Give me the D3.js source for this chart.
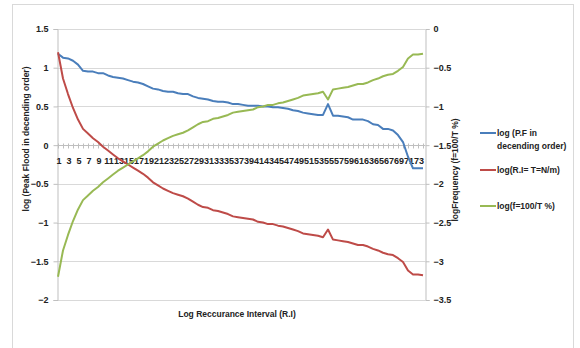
<!DOCTYPE html>
<html>
<head>
<meta charset="utf-8">
<script src="https://cdn.jsdelivr.net/npm/d3@7"></script>
<style>
	body { margin: 0; background: #fff; }
	svg text { font-family: "Liberation Sans", Arial, sans-serif; font-weight: bold; fill: #222; }
	.xlab { font-family: "Liberation Sans Narrow", "Liberation Sans", sans-serif; }
</style>
</head>
<body>
<svg width="580" height="348"></svg>
<script>

	// recurrence index 1..74
	var categories = d3.range( 1, 75 );

	var peakFlood = [
		1.18, 1.13, 1.12, 1.09, 1.04, 0.96, 0.95, 0.95, 0.93, 0.93,
		0.90, 0.88, 0.87, 0.86, 0.84, 0.82, 0.81, 0.79, 0.76, 0.73,
		0.72, 0.70, 0.69, 0.69, 0.67, 0.66, 0.66, 0.63, 0.61, 0.60,
		0.59, 0.57, 0.56, 0.56, 0.55, 0.53, 0.53, 0.52, 0.51, 0.51,
		0.51, 0.50, 0.50, 0.49, 0.49, 0.48, 0.47, 0.45, 0.44, 0.42,
		0.41, 0.40, 0.39, 0.39, 0.53, 0.38, 0.38, 0.37, 0.36, 0.33,
		0.33, 0.33, 0.31, 0.27, 0.26, 0.21, 0.21, 0.19, 0.13, 0.04,
		-0.15, -0.30, -0.30, -0.30
	];

	var recurrence = [
		1.20, 0.86, 0.66, 0.48, 0.33, 0.21, 0.15, 0.09, 0.04, -0.02,
		-0.07, -0.12, -0.17, -0.21, -0.25, -0.29, -0.33, -0.37, -0.42, -0.48,
		-0.52, -0.56, -0.59, -0.62, -0.64, -0.66, -0.69, -0.73, -0.77, -0.80,
		-0.81, -0.84, -0.85, -0.87, -0.89, -0.92, -0.93, -0.94, -0.95, -0.96,
		-0.99, -1.00, -1.02, -1.02, -1.04, -1.05, -1.07, -1.09, -1.11, -1.14,
		-1.15, -1.16, -1.17, -1.19, -1.09, -1.22, -1.23, -1.24, -1.25, -1.27,
		-1.29, -1.29, -1.31, -1.34, -1.36, -1.39, -1.41, -1.42, -1.46, -1.51,
		-1.62, -1.67, -1.67, -1.68
	];

	// secondary axis
	var frequency = [
		-3.20, -2.86, -2.66, -2.48, -2.33, -2.21, -2.15, -2.09, -2.04, -1.98,
		-1.93, -1.88, -1.83, -1.79, -1.75, -1.71, -1.67, -1.63, -1.58, -1.52,
		-1.48, -1.44, -1.41, -1.38, -1.36, -1.34, -1.31, -1.27, -1.23, -1.20,
		-1.19, -1.16, -1.15, -1.13, -1.11, -1.08, -1.07, -1.06, -1.05, -1.04,
		-1.01, -1.00, -0.98, -0.98, -0.96, -0.95, -0.93, -0.91, -0.89, -0.86,
		-0.85, -0.84, -0.83, -0.81, -0.91, -0.78, -0.77, -0.76, -0.75, -0.73,
		-0.71, -0.71, -0.69, -0.66, -0.64, -0.61, -0.59, -0.58, -0.54, -0.49,
		-0.38, -0.33, -0.33, -0.32
	];

	var leftTicks = [ 1.5, 1, 0.5, 0, -0.5, -1, -1.5, -2 ];
	var rightTicks = [ 0, -0.5, -1, -1.5, -2, -2.5, -3, -3.5 ];

	var series = [
		{ name: 'log (P.F in|decending order)', values: peakFlood, axis: 'left', color: '#4a7ebb' },
		{ name: 'log(R.I= T=N/m)', values: recurrence, axis: 'left', color: '#be4b48' },
		{ name: 'log(f=100/T %)', values: frequency, axis: 'right', color: '#98b954' }
	];

	( function() {

		var svg = d3.select( 'svg' ),
			plotLeft = 57, plotRight = 425, plotTop = 29, plotBottom = 300;

		var x = d3.scalePoint().domain( categories ).range( [ 58, 423 ] ),
			yLeft = d3.scaleLinear().domain( [ -2, 1.5 ] ).range( [ plotBottom, plotTop ] ),
			yRight = d3.scaleLinear().domain( [ -3.5, 0 ] ).range( [ plotBottom, plotTop ] );

		// outer chart border
		svg.append( 'rect' )
			.attr( 'x', 12.5 ).attr( 'y', 4.5 )
			.attr( 'width', 561 ).attr( 'height', 350 )
			.attr( 'fill', 'none' ).attr( 'stroke', '#d9d9d9' );

		// gridlines
		svg.append( 'g' )
			.selectAll( 'line' )
			.data( leftTicks )
			.join( 'line' )
			.attr( 'x1', plotLeft ).attr( 'x2', plotRight )
			.attr( 'y1', function( d ) { return Math.round( yLeft( d ) ) + 0.5; } )
			.attr( 'y2', function( d ) { return Math.round( yLeft( d ) ) + 0.5; } )
			.attr( 'stroke', '#d9d9d9' );

		// left axis
		var gl = svg.append( 'g' )
			.attr( 'transform', 'translate(' + ( plotLeft + 0.5 ) + ',0)' )
			.call( d3.axisLeft( yLeft ).tickValues( leftTicks ).tickSize( 4 ).tickPadding( 5 ).tickFormat( d3.format( '' ) ) );

		// right axis
		var gr = svg.append( 'g' )
			.attr( 'transform', 'translate(' + ( plotRight + 0.5 ) + ',0)' )
			.call( d3.axisRight( yRight ).tickValues( rightTicks ).tickSize( 4 ).tickPadding( 4 ).tickFormat( d3.format( '' ) ) );

		[ gl, gr ].forEach( function( g ) {
			g.select( '.domain' ).attr( 'stroke', '#bfbfbf' );
			g.selectAll( '.tick line' ).attr( 'stroke', '#bfbfbf' );
			g.selectAll( '.tick text' ).attr( 'font-size', 9 ).attr( 'fill', '#222' );
		} );

		// category axis on the zero line
		var y0 = Math.round( yLeft( 0 ) ) + 0.5;
		var gx = svg.append( 'g' )
			.attr( 'transform', 'translate(0,' + y0 + ')' );

		gx.append( 'line' )
			.attr( 'x1', plotLeft ).attr( 'x2', plotRight )
			.attr( 'stroke', '#bfbfbf' );

		gx.selectAll( 'line.tick' )
			.data( categories )
			.join( 'line' )
			.attr( 'class', 'tick' )
			.attr( 'x1', function( d ) { return Math.round( x( d ) ) + 0.5; } )
			.attr( 'x2', function( d ) { return Math.round( x( d ) ) + 0.5; } )
			.attr( 'y1', -2 ).attr( 'y2', 3 )
			.attr( 'stroke', '#bfbfbf' );

		gx.selectAll( 'text' )
			.data( categories.filter( function( d ) { return d % 2 === 1; } ) )
			.join( 'text' )
			.attr( 'class', 'xlab' )
			.attr( 'x', function( d ) { return x( d ) + 1; } )
			.attr( 'y', 18 )
			.attr( 'text-anchor', 'middle' )
			.attr( 'font-size', 9 )
			.text( function( d ) { return d; } );

		// series lines
		series.forEach( function( s ) {
			var y = s.axis === 'left' ? yLeft : yRight;
			var line = d3.line()
				.x( function( d, i ) { return x( categories[ i ] ); } )
				.y( function( d ) { return y( d ); } );

			svg.append( 'path' )
				.datum( s.values )
				.attr( 'd', line )
				.attr( 'fill', 'none' )
				.attr( 'stroke', s.color )
				.attr( 'stroke-width', 2 )
				.attr( 'stroke-linejoin', 'round' );
		} );

		// axis titles
		svg.append( 'text' )
			.attr( 'transform', 'translate(29,139) rotate(-90)' )
			.attr( 'text-anchor', 'middle' )
			.attr( 'font-size', 8.5 )
			.text( 'log (Peak Flood in decending order)' );

		svg.append( 'text' )
			.attr( 'transform', 'translate(458,170) rotate(-90)' )
			.attr( 'text-anchor', 'middle' )
			.attr( 'font-size', 8.5 )
			.text( 'logFrequency (f=100/T %)' );

		svg.append( 'text' )
			.attr( 'x', 237 ).attr( 'y', 317 )
			.attr( 'text-anchor', 'middle' )
			.attr( 'font-size', 8.5 )
			.text( 'Log Reccurance Interval  (R.I)' );

		// legend
		var legendY = [ 133, 170, 206 ];
		var legend = svg.append( 'g' )
			.selectAll( 'g' )
			.data( series )
			.join( 'g' )
			.attr( 'transform', function( d, i ) { return 'translate(480,' + legendY[ i ] + ')'; } );

		legend.append( 'line' )
			.attr( 'x1', 0 ).attr( 'x2', 16 )
			.attr( 'stroke', function( d ) { return d.color; } )
			.attr( 'stroke-width', 2 );

		legend.append( 'text' )
			.attr( 'x', 17 ).attr( 'y', 3 )
			.attr( 'font-size', 8.5 )
			.selectAll( 'tspan' )
			.data( function( d ) { return d.name.split( '|' ); } )
			.join( 'tspan' )
			.attr( 'x', 17 )
			.attr( 'dy', function( d, i ) { return i ? 12.5 : 0; } )
			.text( function( d ) { return d; } );

	} )();

</script>
</body>
</html>
